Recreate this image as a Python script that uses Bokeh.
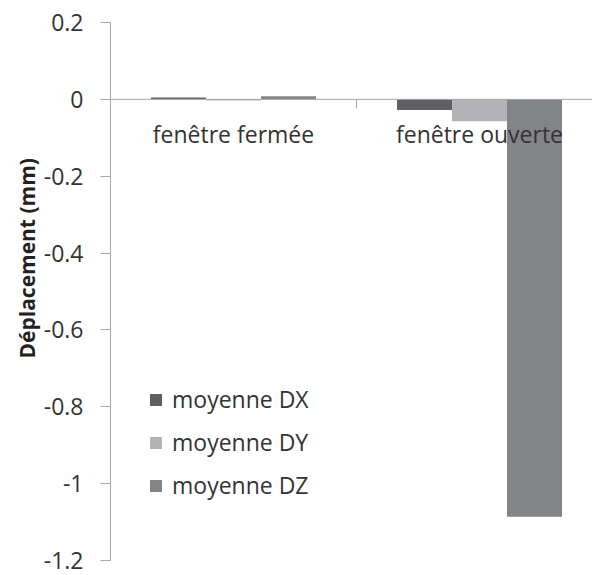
import numpy as np
from bokeh.plotting import figure
from bokeh.models import (Span, Title, Legend, LegendItem, FixedTicker,
                          CustomJSTickFormatter, Range1d)
from bokeh.core.properties import value
from bokeh.embed import file_html
from bokeh.resources import INLINE

# ---- data ----
categories = ["fenêtre fermée", "fenêtre ouverte"]
series = ["moyenne DX", "moyenne DY", "moyenne DZ"]
dx = [0.005, -0.028]
dy = [-0.003, -0.057]
dz = [0.008, -1.086]
y_ticks = [0.2, 0, -0.2, -0.4, -0.6, -0.8, -1, -1.2]
y_title = "Déplacement (mm)"

colors = ["#606064", "#b3b3b6", "#838488"]
FONT = "Open Sans"
FS = "23px"
TXT = "#333333"
AX = "#a6a6a6"

CAT_PX = 246.0
FRAME_W = 592 - 110
p = figure(width=592, height=575, output_backend="svg", toolbar_location=None,
           x_range=Range1d(0, FRAME_W / CAT_PX), y_range=Range1d(-1.2, 0.2),
           x_axis_location=None,
           min_border_left=110, min_border_right=0, min_border_top=22,
           min_border_bottom=15)
p.outline_line_color = None
p.grid.visible = False
p.background_fill_color = "white"

idx = np.arange(len(categories)) + 0.5
bw = 55 / CAT_PX
renderers = []
for k, (vals, col) in enumerate(zip([dx, dy, dz], colors)):
    r = p.vbar(x=idx + (k - 1) * bw, top=vals, bottom=0, width=bw,
               fill_color=col, line_color=None)
    renderers.append(r)

# zero line (category axis)
p.add_layout(Span(location=0, dimension="width", line_color=AX, line_width=1))
bounds = np.arange(1, len(categories))
p.segment(x0=bounds, y0=[0] * len(bounds), x1=bounds, y1=[-0.024] * len(bounds),
          line_color=AX, line_width=1)

# category labels
p.text(x=idx, y=[-0.089] * len(categories), text=categories,
       text_align="center", text_baseline="middle",
       text_font=value(FONT), text_font_size=FS, text_color=TXT)

# y axis
p.yaxis.ticker = FixedTicker(ticks=y_ticks, minor_ticks=[])
p.yaxis.formatter = CustomJSTickFormatter(code="return String(Math.round(tick*10)/10);")
p.yaxis.axis_line_color = AX
p.yaxis.major_tick_line_color = AX
p.yaxis.major_tick_out = 10
p.yaxis.major_tick_in = 0
p.yaxis.minor_tick_line_color = None
p.yaxis.major_label_text_font = FONT
p.yaxis.major_label_text_font_size = FS
p.yaxis.major_label_text_color = TXT
p.yaxis.major_label_standoff = 17

p.add_layout(Title(text=y_title, align="left", offset=202, standoff=0,
                   text_font=FONT, text_font_style="bold",
                   text_font_size="21px", text_color="#222222"), "left")

legend = Legend(items=[LegendItem(label=s, renderers=[r]) for s, r in zip(series, renderers)],
                location=(38, 59), border_line_color=None, background_fill_alpha=0,
                padding=0, margin=0, spacing=11, glyph_width=15, glyph_height=15,
                label_height=20, label_standoff=9, label_text_font=FONT,
                label_text_font_size=FS, label_text_color=TXT)
p.add_layout(legend)

open("out.html", "w").write(file_html(p, INLINE))
